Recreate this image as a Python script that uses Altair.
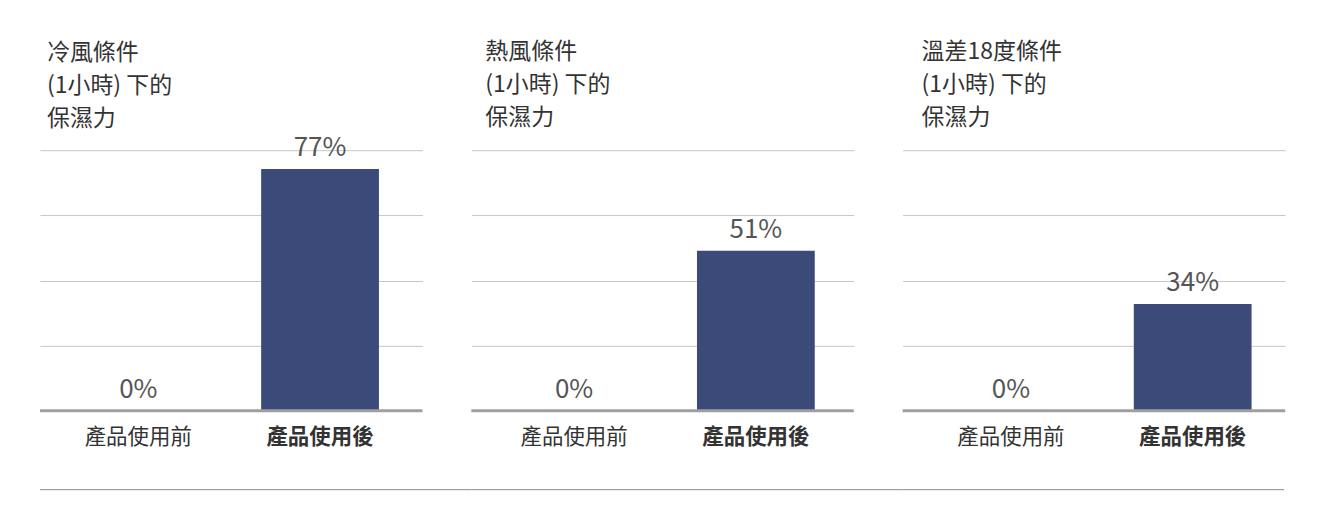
import altair as alt
import pandas as pd
import numpy as np

# ---- data ----
titles = [
    ["冷風條件", "(1小時) 下的", "保濕力"],
    ["熱風條件", "(1小時) 下的", "保濕力"],
    ["溫差18度條件", "(1小時) 下的", "保濕力"],
]
categories = ["產品使用前", "產品使用後"]
before_values = [0, 0, 0]
after_values = [77, 51, 34]

# ---- styling / layout ----
YMAX = 83
grid_vals = [float(v) for v in np.linspace(0, YMAX, 5)]
W, H, SP = 383, 261, 49
BAND_ALIGN = [0.476, 0.53, 0.596]
TITLE_DX = [7, 14, 19]
TITLE_OFFSET = [4, 20, 20]
CJK = "Noto Sans CJK TC"
BAR_COLOR = "#3b4a78"


def panel(i):
    df = pd.DataFrame({"cat": categories, "value": [before_values[i], after_values[i]]})
    df["label"] = df["value"].astype(str) + "%"

    x = alt.X(
        "cat:N",
        sort=categories,
        scale=alt.Scale(paddingInner=0.352, paddingOuter=0.228, align=BAND_ALIGN[i]),
        axis=alt.Axis(
            title=None,
            ticks=False,
            domain=False,
            labelAngle=0,
            labelFontSize=21.5,
            labelFont=CJK,
            labelColor="#333333",
            labelPadding=16,
            labelFontWeight={
                "condition": {"test": f"datum.value === '{categories[1]}'", "value": "bold"},
                "value": "normal",
            },
        ),
    )
    y = alt.Y(
        "value:Q",
        scale=alt.Scale(domain=[0, YMAX], nice=False),
        axis=alt.Axis(
            values=grid_vals,
            grid=True,
            gridColor="#c6c6c6",
            gridWidth=1,
            labels=False,
            ticks=False,
            domain=False,
            title=None,
        ),
    )
    base = alt.Chart(df).encode(x=x, y=y)
    bars = base.mark_bar(color=BAR_COLOR)
    text = base.mark_text(
        font=CJK, fontSize=26, color="#555555", baseline="alphabetic", dy=-13
    ).encode(text="label:N")

    one = pd.DataFrame({"k": [0]})
    baseline = (
        alt.Chart(one)
        .mark_rule(color="#a0a0a0", strokeWidth=3)
        .encode(x=alt.value(0), x2=alt.value(W), y=alt.datum(0))
    )
    x2 = W + SP if i < 2 else W - 1
    bottom_rule = (
        alt.Chart(one)
        .mark_rule(color="#8c8c8c", strokeWidth=1)
        .encode(x=alt.value(0), x2=alt.value(x2), y=alt.value(H + 79))
    )

    return alt.layer(bars, baseline, text, bottom_rule).properties(
        width=W,
        height=H,
        title=alt.Title(
            text=titles[i],
            anchor="start",
            frame="group",
            fontSize=23,
            font=CJK,
            fontWeight="normal",
            color="#333333",
            lineHeight=33,
            offset=TITLE_OFFSET[i],
            dx=TITLE_DX[i],
        ),
    )


chart = (
    alt.hconcat(panel(0), panel(1), panel(2), spacing=SP, bounds="flush")
    .properties(
        padding={"left": 30, "right": 33, "top": 33, "bottom": 31},
        background="white",
    )
    .configure_view(stroke=None)
)

chart.save("out.html", embed_options={"renderer": "svg", "actions": False})
